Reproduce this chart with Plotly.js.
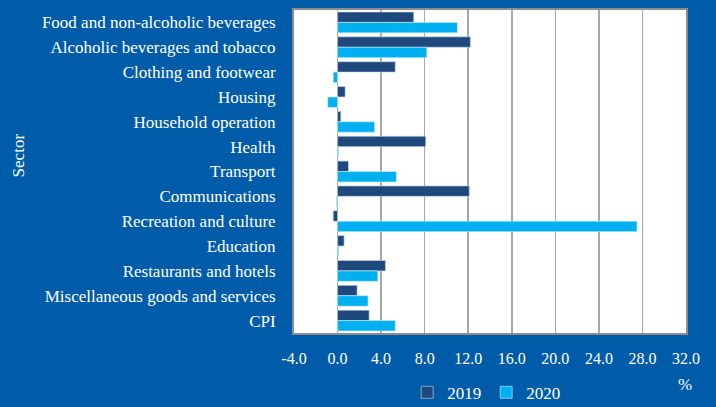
<!DOCTYPE html>
<html>
<head>
<meta charset="utf-8">
<script src="https://cdn.plot.ly/plotly-3.0.1.min.js"></script>
<style>html,body{margin:0;padding:0;background:#005ca9;}</style>
</head>
<body>
<div id="chart" style="width:716px;height:407px;"></div>
<script>
const sectors = [
  "Food and non-alcoholic beverages",
  "Alcoholic beverages and tobacco",
  "Clothing and footwear",
  "Housing",
  "Household operation",
  "Health",
  "Transport",
  "Communications",
  "Recreation and culture",
  "Education",
  "Restaurants and hotels",
  "Miscellaneous goods and services",
  "CPI"
];
const values2019 = [7.0, 12.2, 5.3, 0.7, 0.3, 8.1, 1.0, 12.1, -0.4, 0.6, 4.4, 1.8, 2.9];
const values2020 = [11.0, 8.2, -0.4, -0.9, 3.4, 0.1, 5.4, -0.1, 27.5, 0.1, 3.7, 2.8, 5.3];
const tickVals = [-4, 0, 4, 8, 12, 16, 20, 24, 28, 32];
const tickText = ["-4.0", "0.0", "4.0", "8.0", "12.0", "16.0", "20.0", "24.0", "28.0", "32.0"];

const font = "'Liberation Serif'";
const traces = [
  {type: "bar", orientation: "h", name: "2019", y: sectors, x: values2019,
   marker: {color: "#1f497d", line: {color: "rgba(200,215,235,0.8)", width: 0.8}}},
  {type: "bar", orientation: "h", name: "2020", y: sectors, x: values2020,
   marker: {color: "#00b0f0", line: {color: "rgba(200,235,250,0.8)", width: 0.8}}}
];
const layout = {
  width: 716, height: 407,
  paper_bgcolor: "#005ca9",
  plot_bgcolor: "#ffffff",
  margin: {l: 294, r: 30, t: 10, b: 74, autoexpand: false},
  barmode: "group",
  bargap: 0.16,
  bargroupgap: 0,
  font: {family: font, color: "#ffffff", size: 17},
  showlegend: true,
  legend: {orientation: "h", xref: "container", yref: "container",
           x: 0.679, xanchor: "center", y: 0.035, yanchor: "middle",
           font: {family: font, size: 17, color: "#ffffff"}, traceorder: "normal",
           itemwidth: 30, tracegroupgap: 0, bgcolor: "rgba(0,0,0,0)"},
  xaxis: {
    range: [-4, 32], tickvals: tickVals, ticktext: tickText,
    showgrid: true, gridcolor: "#a6a6a6", gridwidth: 1.5,
    zeroline: false, showline: true, linecolor: "#8c8c8c", linewidth: 2, mirror: true,
    ticks: "", ticklabelstandoff: 10,
    tickfont: {family: font, size: 16, color: "#ffffff"}, automargin: false
  },
  yaxis: {
    autorange: "reversed", type: "category",
    showgrid: false, zeroline: false, showline: true, linecolor: "#8c8c8c", linewidth: 2, mirror: true,
    ticks: "", ticklabelstandoff: 13, automargin: false,
    tickfont: {family: font, size: 17, color: "#ffffff"}
  },
  annotations: [
    {text: "Sector", xref: "paper", yref: "paper", x: -0.704, y: 0.55, textangle: -90,
     xanchor: "center", yanchor: "middle", showarrow: false,
     font: {family: font, size: 17, color: "#ffffff"}},
    {text: "%", xref: "paper", yref: "paper", x: 0.997, y: -0.125, xanchor: "center", yanchor: "top",
     showarrow: false, font: {family: font, size: 17, color: "#ffffff"}}
  ]
};
Plotly.newPlot("chart", traces, layout, {displayModeBar: false, staticPlot: true});
</script>
</body>
</html>
